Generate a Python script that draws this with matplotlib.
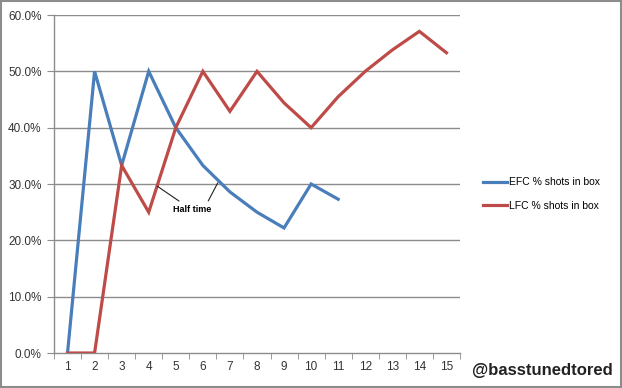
import matplotlib.pyplot as plt
from matplotlib.patches import Rectangle

# values (percent)
periods = list(range(1, 16))
efc_pct = [0, 50, 33.3, 50, 40, 33.3, 28.6, 25, 22.2, 30, 27.3]
lfc_pct = [0, 0, 33.3, 25, 40, 50, 42.9, 50, 44.4, 40, 45.5, 50, 53.8, 57.1, 53.3]
efc_label = "EFC % shots in box"
lfc_label = "LFC % shots in box"
yticks = [0, 10, 20, 30, 40, 50, 60]

plt.rcParams['font.family'] = ['Liberation Sans', 'DejaVu Sans']

fig = plt.figure(figsize=(6.22, 3.88), dpi=100)
ax = fig.add_axes([0.0868, 0.0902, 0.6527, 0.8711])

blue = "#4a7ebb"
red = "#be4b48"
grid = "#8c8c8c"

ax.plot(periods[:len(efc_pct)], efc_pct, color=blue, lw=2.3, label=efc_label,
        solid_joinstyle="miter", zorder=3)
ax.plot(periods[:len(lfc_pct)], lfc_pct, color=red, lw=2.3, label=lfc_label,
        solid_joinstyle="miter", zorder=3)

ax.set_xlim(0.5, 15.5)
ax.set_ylim(0, 60)
ax.set_yticks(yticks)
ax.set_yticklabels(["%.1f%%" % v for v in yticks])
ax.set_xticks(periods)
ax.set_xticks([p + 0.5 for p in range(0, 16)], minor=True)
ax.tick_params(axis="x", which="major", length=0, pad=6, labelsize=8.5, labelcolor="#333333")
ax.tick_params(axis="x", which="minor", length=4, color=grid, direction="out")
ax.tick_params(axis="y", length=5, color=grid, pad=4, labelsize=8.5, labelcolor="#333333")

for y in yticks[1:]:
    ax.axhline(y, color=grid, lw=1, zorder=1)
for side in ("top", "right"):
    ax.spines[side].set_visible(False)
for side in ("left", "bottom"):
    ax.spines[side].set_color(grid)
    ax.spines[side].set_linewidth(1)

# half time annotation
ax.annotate("Half time", xy=(4.32, 29.6), xytext=(5.6, 25.4), fontsize=6.5,
            fontweight="bold", ha="center", va="center",
            arrowprops=dict(arrowstyle="-", color="#222222", lw=0.8, shrinkA=2, shrinkB=0))
ax.annotate("", xy=(6.55, 30.2), xytext=(6.2, 27.0),
            arrowprops=dict(arrowstyle="-", color="#222222", lw=0.8, shrinkA=0, shrinkB=0))

fig.legend(loc="center left", bbox_to_anchor=(0.762, 0.5), frameon=False,
           fontsize=7.5, handlelength=2.3, handletextpad=0.15, labelspacing=1.25)

fig.text(0.985, 0.045, "@basstunedtored", ha="right", va="center",
         fontsize=12, fontweight="bold", color="#222222")

fig.patches.append(Rectangle((0.002, 0.003), 0.996, 0.994, transform=fig.transFigure,
                             fill=False, edgecolor="#8c8c8c", lw=1.5))

fig.savefig("out.png", dpi=100)
